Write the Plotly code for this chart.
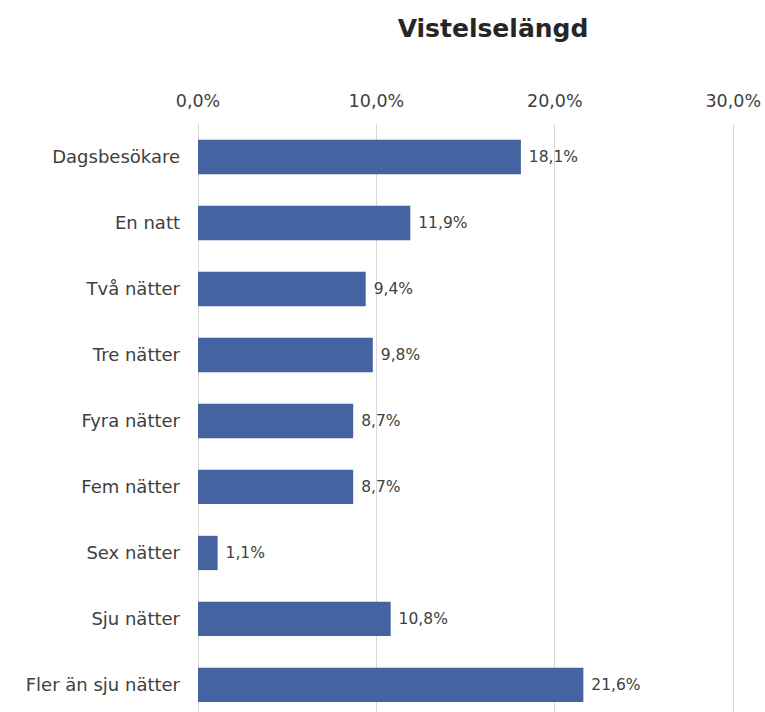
import plotly.graph_objects as go

categories = ["Dagsbesökare", "En natt", "Två nätter", "Tre nätter", "Fyra nätter",
              "Fem nätter", "Sex nätter", "Sju nätter", "Fler än sju nätter"]
values = [18.1, 11.9, 9.4, 9.8, 8.7, 8.7, 1.1, 10.8, 21.6]
tick_vals = [0, 10, 20, 30]
tick_text = ["0,0%", "10,0%", "20,0%", "30,0%"]

labels = [" " + f"{v:.1f}%".replace(".", ",") for v in values]

FONT = "DejaVu Sans"
fig = go.Figure(go.Bar(
    x=values, y=categories, orientation="h",
    marker=dict(color="#4563a0", line=dict(width=0)),
    text=labels, textposition="outside", cliponaxis=False, constraintext="none",
    textfont=dict(family=FONT, size=15.5, color="#404040"),
))
fig.update_layout(
    width=765, height=712,
    margin=dict(l=198, r=30, t=124, b=0),
    paper_bgcolor="white", plot_bgcolor="white",
    bargap=0.48,
    showlegend=False,
    title=dict(text="<b>Vistelselängd</b>", x=493/765, xref="container", xanchor="center",
               y=1 - 28/712, yref="container", yanchor="middle",
               font=dict(family=FONT, size=25, color="#262626")),
    font=dict(family=FONT, color="#404040"),
)
fig.update_xaxes(side="top", range=[0, 30.1], tickvals=tick_vals, ticktext=tick_text,
                 showgrid=True, gridcolor="#d9d9d9", gridwidth=1,
                 zeroline=True, zerolinecolor="#d9d9d9", zerolinewidth=1,
                 showline=False, ticks="", ticklabelstandoff=13,
                 tickfont=dict(family=FONT, size=17.5, color="#404040"))
fig.update_yaxes(categoryorder="array", categoryarray=categories,
                 range=[8.41, -0.5], showgrid=False, zeroline=False, showline=False,
                 ticks="", ticklabelstandoff=17,
                 tickfont=dict(family=FONT, size=18, color="#404040"))
fig.write_html("out.html")
